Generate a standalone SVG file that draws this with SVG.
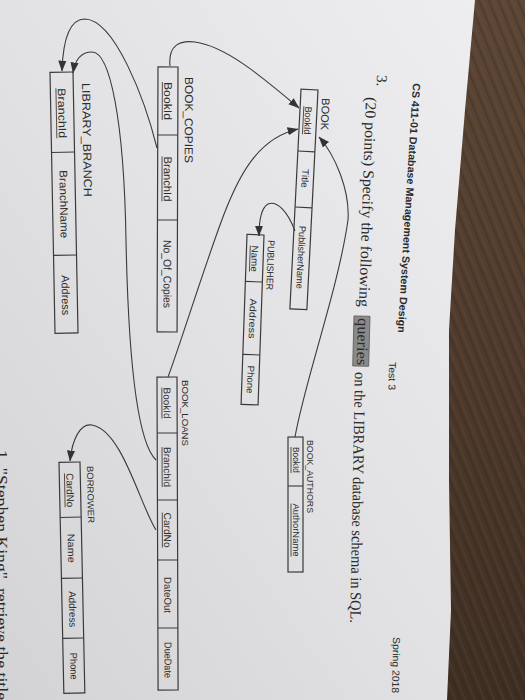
<svg xmlns="http://www.w3.org/2000/svg" width="525" height="700" viewBox="0 0 525 700">
<defs>
  <linearGradient id="paper" x1="0" y1="1" x2="1" y2="0">
    <stop offset="0" stop-color="#d3d3d5"/>
    <stop offset="0.5" stop-color="#e2e2e4"/>
    <stop offset="1" stop-color="#eeeef0"/>
  </linearGradient>
  <linearGradient id="woodg" x1="0" y1="0" x2="0" y2="1">
    <stop offset="0" stop-color="#5c4636"/>
    <stop offset="0.5" stop-color="#4f3b2d"/>
    <stop offset="1" stop-color="#3e2e22"/>
  </linearGradient>
  <pattern id="grain" width="9" height="9" patternUnits="userSpaceOnUse" patternTransform="rotate(68)">
    <line x1="0" y1="2" x2="9" y2="2" stroke="#6e5542" stroke-width="1" opacity="0.35"/>
    <line x1="0" y1="6" x2="9" y2="6" stroke="#2c2019" stroke-width="1.6" opacity="0.35"/>
  </pattern>
  <marker id="ah" viewBox="0 0 10 10" refX="9.5" refY="5" markerWidth="11" markerHeight="11" markerUnits="userSpaceOnUse" orient="auto">
    <path d="M0,1.3 L10,5 L0,8.7 z" fill="#333"/>
  </marker>
  <style>
    .tb { fill: none; stroke: #3a3a3a; stroke-width: 1.2; }
    .dv { stroke: #3a3a3a; stroke-width: 1.1; }
    .ct { font-family: "Liberation Sans", Arial, sans-serif; fill: #2c2c2c; text-anchor: middle; }
    .lb { font-family: "Liberation Sans", Arial, sans-serif; fill: #2c2c2c; }
    .ul { stroke: #2c2c2c; stroke-width: 0.8; }
    .hd { font-family: "Liberation Sans", Arial, sans-serif; fill: #2a2a2a; }
    .pr { font-family: "Liberation Serif", "Times New Roman", serif; fill: #2a2a2a; }
    .cn { fill: none; stroke: #3a3a3a; stroke-width: 1.1; marker-end: url(#ah); }
  </style>
</defs>

<!-- wood background and paper -->
<rect x="0" y="0" width="525" height="700" fill="url(#woodg)"/>
<rect x="0" y="0" width="525" height="700" fill="url(#grain)"/>
<path d="M0,0 L475,0 L465,110 L455,230 L449,330 L449,480 L451,610 L447,700 L0,700 Z" fill="url(#paper)"/>

<!-- header texts -->
<g id="header">
  <text class="hd" font-size="10.5" font-weight="bold" textLength="250" lengthAdjust="spacingAndGlyphs" transform="translate(413,83) rotate(93.5)">CS 411-01 Database Management System Design</text>
  <text class="hd" font-size="10" textLength="28" lengthAdjust="spacingAndGlyphs" transform="translate(389,362) rotate(91)">Test 3</text>
  <text class="hd" font-size="10" textLength="56" lengthAdjust="spacingAndGlyphs" transform="translate(393,637) rotate(91)">Spring 2018</text>
  <text class="pr" font-size="15" transform="translate(377,75) rotate(92)">3.</text>
  <text class="pr" font-size="15.5" textLength="210" lengthAdjust="spacingAndGlyphs" transform="translate(366,97) rotate(91.9)">(20 points) Specify the following</text>
  <rect x="0" y="-12" width="50" height="16" fill="#8a8a8a" stroke="#555" stroke-width="0.8" transform="translate(358,316) rotate(91.5)"/>
  <text class="pr" font-size="15.5" textLength="47" lengthAdjust="spacingAndGlyphs" transform="translate(358,318) rotate(91.5)">queries</text>
  <text class="pr" font-size="15.5" textLength="251" lengthAdjust="spacingAndGlyphs" transform="translate(355,372) rotate(91.1)">on the LIBRARY database schema in SQL.</text>
  <text class="pr" font-size="16" textLength="250" lengthAdjust="spacingAndGlyphs" transform="translate(-4,450) rotate(90)">1.  "Stephen King", retrieve the title</text>
</g>

<!-- BOOK -->
<g id="book">
  <text class="lb" font-size="11" textLength="32" lengthAdjust="spacingAndGlyphs" transform="translate(322,98) rotate(92.5)">BOOK</text>
  <g transform="translate(318,90) rotate(92.9)">
    <rect class="tb" x="0" y="0" width="220" height="17"/>
    <line class="dv" x1="62" y1="0" x2="62" y2="17"/>
    <line class="dv" x1="118" y1="0" x2="118" y2="17"/>
    <text class="ct" font-size="9.5" x="31" y="11.8" textLength="28" lengthAdjust="spacingAndGlyphs">BookId</text>
    <line class="ul" x1="17" y1="13.3" x2="45" y2="13.3"/>
    <text class="ct" font-size="9.5" x="89" y="11.8" textLength="19" lengthAdjust="spacingAndGlyphs">Title</text>
    <text class="ct" font-size="9.5" x="168" y="11.8" textLength="63" lengthAdjust="spacingAndGlyphs">PublisherName</text>
  </g>
</g>

<!-- PUBLISHER -->
<g id="publisher">
  <text class="lb" font-size="9.5" textLength="50" lengthAdjust="spacingAndGlyphs" transform="translate(268,240) rotate(92)">PUBLISHER</text>
  <g transform="translate(264,235) rotate(92)">
    <rect class="tb" x="0" y="0" width="170" height="17"/>
    <line class="dv" x1="47" y1="0" x2="47" y2="17"/>
    <line class="dv" x1="120" y1="0" x2="120" y2="17"/>
    <text class="ct" font-size="9.5" x="24" y="11.8" textLength="26" lengthAdjust="spacingAndGlyphs">Name</text>
    <line class="ul" x1="11" y1="13.3" x2="37" y2="13.3"/>
    <text class="ct" font-size="9.5" x="84" y="11.8" textLength="40" lengthAdjust="spacingAndGlyphs">Address</text>
    <text class="ct" font-size="9.5" x="145" y="11.8" textLength="28" lengthAdjust="spacingAndGlyphs">Phone</text>
  </g>
</g>

<!-- BOOK_AUTHORS -->
<g id="book_authors">
  <text class="lb" font-size="9" textLength="73" lengthAdjust="spacingAndGlyphs" transform="translate(307,440) rotate(90)">BOOK_AUTHORS</text>
  <g transform="translate(303,437) rotate(90)">
    <rect class="tb" x="0" y="0" width="135" height="15"/>
    <line class="dv" x1="49" y1="0" x2="49" y2="15"/>
    <text class="ct" font-size="8.5" x="23" y="10.5" textLength="26" lengthAdjust="spacingAndGlyphs">BookId</text>
    <line class="ul" x1="10" y1="12" x2="36" y2="12"/>
    <text class="ct" font-size="8.5" x="93" y="10.5" textLength="53" lengthAdjust="spacingAndGlyphs">AuthorName</text>
    <line class="ul" x1="66.5" y1="12" x2="119.5" y2="12"/>
  </g>
</g>

<!-- BOOK_COPIES -->
<g id="book_copies">
  <text class="lb" font-size="11.5" textLength="86" lengthAdjust="spacingAndGlyphs" transform="translate(185,77) rotate(90.2)">BOOK_COPIES</text>
  <g transform="translate(178,67) rotate(90.2)">
    <rect class="tb" x="0" y="0" width="265" height="20"/>
    <line class="dv" x1="68" y1="0" x2="68" y2="20"/>
    <line class="dv" x1="153" y1="0" x2="153" y2="20"/>
    <text class="ct" font-size="11" x="34" y="13.8" textLength="38" lengthAdjust="spacingAndGlyphs">BookId</text>
    <line class="ul" x1="15" y1="15.6" x2="53" y2="15.6"/>
    <text class="ct" font-size="11" x="112" y="13.8" textLength="45" lengthAdjust="spacingAndGlyphs">BranchId</text>
    <line class="ul" x1="89.5" y1="15.6" x2="134.5" y2="15.6"/>
    <text class="ct" font-size="11" x="207" y="13.8" textLength="68" lengthAdjust="spacingAndGlyphs">No_Of_Copies</text>
  </g>
</g>

<!-- LIBRARY_BRANCH -->
<g id="library_branch">
  <text class="lb" font-size="11.5" textLength="114" lengthAdjust="spacingAndGlyphs" transform="translate(82,83) rotate(89)">LIBRARY_BRANCH</text>
  <g transform="translate(73,72) rotate(88.9)">
    <rect class="tb" x="0" y="0" width="261" height="23"/>
    <line class="dv" x1="80" y1="0" x2="80" y2="23"/>
    <line class="dv" x1="183" y1="0" x2="183" y2="23"/>
    <text class="ct" font-size="11" x="41" y="15.5" textLength="50" lengthAdjust="spacingAndGlyphs">BranchId</text>
    <line class="ul" x1="16" y1="17.4" x2="66" y2="17.4"/>
    <text class="ct" font-size="11" x="132" y="15.5" textLength="68" lengthAdjust="spacingAndGlyphs">BranchName</text>
    <text class="ct" font-size="11" x="223" y="15.5" textLength="40" lengthAdjust="spacingAndGlyphs">Address</text>
  </g>
</g>

<!-- BOOK_LOANS -->
<g id="book_loans">
  <text class="lb" font-size="9.5" textLength="66" lengthAdjust="spacingAndGlyphs" transform="translate(181.5,380) rotate(90)">BOOK_LOANS</text>
  <g transform="translate(177,377) rotate(89.8)">
    <rect class="tb" x="0" y="0" width="313" height="20"/>
    <line class="dv" x1="56" y1="0" x2="56" y2="20"/>
    <line class="dv" x1="123" y1="0" x2="123" y2="20"/>
    <line class="dv" x1="183" y1="0" x2="183" y2="20"/>
    <line class="dv" x1="251" y1="0" x2="251" y2="20"/>
    <text class="ct" font-size="10" x="26" y="13.5" textLength="31" lengthAdjust="spacingAndGlyphs">BookId</text>
    <line class="ul" x1="10.5" y1="15.2" x2="41.5" y2="15.2"/>
    <text class="ct" font-size="10" x="90" y="13.5" textLength="40" lengthAdjust="spacingAndGlyphs">BranchId</text>
    <line class="ul" x1="70" y1="15.2" x2="110" y2="15.2"/>
    <text class="ct" font-size="10" x="153" y="13.5" textLength="35" lengthAdjust="spacingAndGlyphs">CardNo</text>
    <line class="ul" x1="135.5" y1="15.2" x2="170.5" y2="15.2"/>
    <text class="ct" font-size="10" x="218" y="13.5" textLength="36" lengthAdjust="spacingAndGlyphs">DateOut</text>
    <text class="ct" font-size="10" x="283" y="13.5" textLength="36" lengthAdjust="spacingAndGlyphs">DueDate</text>
  </g>
</g>

<!-- BORROWER -->
<g id="borrower">
  <text class="lb" font-size="9" textLength="57" lengthAdjust="spacingAndGlyphs" transform="translate(87,466) rotate(89)">BORROWER</text>
  <g transform="translate(80,462) rotate(88.8)">
    <rect class="tb" x="0" y="0" width="231" height="21"/>
    <line class="dv" x1="55" y1="0" x2="55" y2="21"/>
    <line class="dv" x1="116" y1="0" x2="116" y2="21"/>
    <line class="dv" x1="176" y1="0" x2="176" y2="21"/>
    <text class="ct" font-size="10" x="28" y="14" textLength="34" lengthAdjust="spacingAndGlyphs">CardNo</text>
    <line class="ul" x1="11" y1="15.8" x2="45" y2="15.8"/>
    <text class="ct" font-size="10" x="86" y="14" textLength="29" lengthAdjust="spacingAndGlyphs">Name</text>
    <text class="ct" font-size="10" x="147" y="14" textLength="36" lengthAdjust="spacingAndGlyphs">Address</text>
    <text class="ct" font-size="10" x="204" y="14" textLength="27" lengthAdjust="spacingAndGlyphs">Phone</text>
  </g>
</g>

<!-- connectors -->
<g id="connectors">
  <path class="cn" d="M170,66 C168,45 180,40 195,42 C225,46 260,75 299,108"/>
  <path class="cn" d="M168,377 C180,345 200,280 220,225 C238,175 258,138 298,129"/>
  <path class="cn" d="M295,437 C305,380 338,290 348,220 C350,190 335,155 319,137"/>
  <path class="cn" d="M295,231 C288,212 277,200 268,204 C261,208 259,222 259,236"/>
  <path class="cn" d="M157,148 C145,100 115,20 85,19 C70,19 63,40 62,71"/>
  <path class="cn" d="M156,460 C135,440 128,340 126,240 C124,120 110,52 92,52 C81,52 75,60 73,73"/>
  <path class="cn" d="M156,530 C140,505 122,430 92,425 C80,423 72,440 70,461"/>
</g>
</svg>
